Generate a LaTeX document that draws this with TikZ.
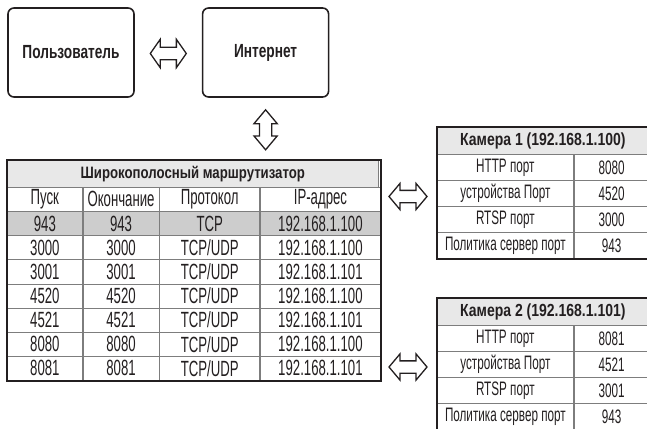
\documentclass[tikz,border=0pt]{standalone}
\usepackage{fontspec}
\setmainfont{Liberation Sans}
\newfontfamily\rtfamily{Liberation Sans}[FakeStretch=0.6]
\newfontfamily\camfamily{Liberation Sans}[FakeStretch=0.6]
\newfontfamily\rtheadfamily{Liberation Sans}[FakeStretch=0.8]
\newfontfamily\camheadfamily{Liberation Sans}[FakeStretch=0.8]
\newfontfamily\hostfamily{Liberation Sans}[FakeStretch=0.72]
\usetikzlibrary{positioning,calc,shapes.arrows}
\definecolor{inkcol}{RGB}{35,31,32}
\definecolor{gridcol}{RGB}{125,125,125}
\definecolor{headcol}{RGB}{232,232,232}
\definecolor{markcol}{RGB}{205,205,205}
\newcommand\hostfont{\hostfamily\fontsize{19}{21}\selectfont\bfseries}
\newcommand\rtheadfont{\rtheadfamily\fontsize{16.5}{18}\selectfont\bfseries}
\newcommand\rtfont{\rtfamily\fontsize{22}{24}\selectfont}
\newcommand\camheadfont{\camheadfamily\fontsize{17.5}{19}\selectfont\bfseries}
\newcommand\camfont{\camfamily\fontsize{19.5}{21}\selectfont}

\begin{document}
\begin{tikzpicture}[x=1pt,y=-1pt,text=inkcol,
  hostbox/.style={draw=inkcol, line width=1.6pt, rounded corners=6pt,
    minimum width=126pt, minimum height=89pt, font=\hostfont},
  cell/.style={draw=gridcol, line width=0.7pt, inner sep=0pt, anchor=north west},
  swap/.style={double arrow, draw=inkcol, line width=1.3pt, inner xsep=0pt,
    inner ysep=5.5pt},
  frame/.style={draw=inkcol, line width=1.6pt}]
\useasboundingbox (0,0) rectangle (647,428);
\clip (0,0) rectangle (647,428);

% hosts
\node[hostbox] (user) at (71,52.5) {Пользователь};
\node[hostbox, right=67pt of user] (inet) {Интернет};
\node[swap, minimum height=36pt, double arrow head extend=8pt,
      double arrow tip angle=110] (ui) at ($(user.east)!0.5!(inet.west)+(0,1)$) {};
\node[swap, rotate=90, minimum height=40pt, double arrow head extend=5.5pt,
      double arrow tip angle=80] (ir) at ($(inet.south)+(0,32)$) {};

% router table
\node[cell, fill=headcol, minimum width=371pt, minimum height=27pt, font=\rtheadfont]
  (rt-0) at (7,160) {Широкополосный маршрутизатор};
\foreach \ca/\cb/\cc/\cd [count=\r] in {Пуск/Окончание/Протокол/IP-адрес,
    943/943/TCP/192.168.1.100, 3000/3000/TCP\slash UDP/192.168.1.100,
    3001/3001/TCP\slash UDP/192.168.1.101, 4520/4520/TCP\slash UDP/192.168.1.100,
    4521/4521/TCP\slash UDP/192.168.1.101, 8080/8080/TCP\slash UDP/192.168.1.100,
    8081/8081/TCP\slash UDP/192.168.1.101} {
  \ifnum\r=2 \def\rowfill{markcol}\else\def\rowfill{white}\fi
  \pgfmathsetmacro{\ytop}{187+(\r-1)*24.125}
  \begin{scope}[every node/.append style={cell, fill=\rowfill, minimum height=24.125pt, font=\rtfont}]
    \node[minimum width=75pt] (rt-\r-1) at (7,\ytop) {\ca};
    \node[minimum width=76pt] (rt-\r-2) at (rt-\r-1.north east) {\cb};
    \node[minimum width=100pt] (rt-\r-3) at (rt-\r-2.north east) {\cc};
    \node[minimum width=120pt] (rt-\r-4) at (rt-\r-3.north east) {\cd};
  \end{scope}
}
\draw[frame] (rt-0.north west) rectangle (rt-8-4.south east);

% camera tables
\foreach \k/\top/\title/\va/\vb/\vc/\vd in {1/127/Камера 1 (192.168.1.100)/8080/4520/3000/943,
    2/298/Камера 2 (192.168.1.101)/8081/4521/3001/943} {
  \node[cell, fill=headcol, minimum width=211pt, minimum height=27pt, font=\camheadfont]
    (cam\k-0) at (437,\top) {\title};
  \foreach \lbl/\val [count=\r] in {HTTP порт/\va, устройства Порт/\vb,
      RTSP порт/\vc, Политика сервер порт/\vd} {
    \pgfmathsetmacro{\ytop}{\top+27+(\r-1)*26}
    \node[cell, minimum width=136pt, minimum height=26pt, font=\camfont]
      (cam\k-\r-1) at (437,\ytop) {\lbl};
    \node[cell, minimum width=75pt, minimum height=26pt, font=\camfont]
      (cam\k-\r-2) at (cam\k-\r-1.north east) {\val};
  }
  \draw[frame] (cam\k-0.north west) rectangle (cam\k-4-2.south east);
}
\node[swap, minimum height=38pt, double arrow head extend=7pt,
      double arrow tip angle=100] (rc1) at (408,196.5) {};
\node[swap, minimum height=38pt, double arrow head extend=7pt,
      double arrow tip angle=100] (rc2) at (408,367) {};
\end{tikzpicture}
\end{document}
